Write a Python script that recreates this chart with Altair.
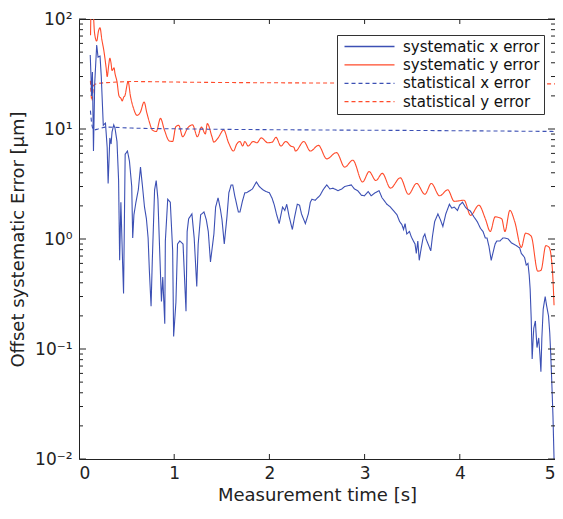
import altair as alt
import pandas as pd

# ---- data (time [s], error [um]) ----
sys_x = [(0.118,47),(0.126,30),(0.131,20),(0.141,33),(0.152,6.3),(0.165,26),(0.186,58),(0.200,45),(0.221,46),
 (0.234,30),(0.255,10.8),(0.278,11.3),(0.296,6.8),(0.306,3.2),(0.324,8.3),(0.337,7.3),(0.347,9.4),(0.365,10.9),
 (0.378,10.2),(0.399,7.7),(0.416,3.4),(0.427,0.64),(0.440,2.16),(0.458,0.60),(0.468,0.32),(0.485,5.9),(0.509,6.3),
 (0.530,5.1),(0.554,3.0),(0.564,1.02),(0.577,1.66),(0.598,2.16),(0.623,2.8),(0.646,4.5),(0.667,3.0),(0.688,1.95),
 (0.708,1.53),(0.726,1.02),(0.739,0.52),(0.757,0.245),(0.770,0.64),(0.794,2.8),(0.811,3.4),(0.829,2.3),(0.845,0.90),
 (0.866,0.27),(0.880,0.45),(0.901,0.17),(0.907,0.96),(0.932,2.3),(0.959,2.16),(0.984,0.78),(0.994,0.13),(1.018,0.265),
 (1.035,0.90),(1.059,0.96),(1.093,0.90),(1.124,0.22),(1.136,1.17),(1.152,1.53),(1.186,1.69),(1.210,1.02),(1.237,0.37),
 (1.252,0.90),(1.278,1.66),(1.313,1.76),(1.337,1.5),(1.358,1.17),(1.381,0.62),(1.417,1.11),(1.435,1.95),(1.461,2.37),
 (1.485,1.87),(1.502,1.5),(1.526,0.90),(1.554,1.59),(1.574,2.63),(1.598,3.1),(1.615,3.1),(1.636,2.47),(1.674,1.76),
 (1.691,1.76),(1.719,2.25),(1.742,2.63),(1.760,2.63),(1.794,2.75),(1.822,2.85),(1.863,3.3),(1.894,3.0),(1.932,2.8),
 (1.966,2.7),(2.000,2.63),(2.028,2.35),(2.052,2.03),(2.074,1.69),(2.103,1.38),(2.138,1.95),(2.162,1.82),(2.182,2.07),
 (2.208,1.59),(2.241,1.22),(2.265,1.59),(2.293,2.07),(2.317,2.03),(2.337,1.69),(2.378,1.38),(2.409,1.69),(2.430,2.16),
 (2.447,2.3),(2.481,2.25),(2.533,2.5),(2.564,2.8),(2.602,3.1),(2.636,2.85),(2.667,2.9),(2.722,2.75),(2.760,2.85),
 (2.791,3.0),(2.860,3.1),(2.894,2.85),(2.928,2.75),(2.966,2.5),(2.997,2.47),(3.038,2.7),(3.069,2.47),(3.110,2.63),
 (3.152,2.75),(3.183,2.37),(3.203,2.25),(3.234,2.07),(3.272,1.95),(3.306,1.80),(3.340,1.66),(3.368,1.44),(3.392,1.35),
 (3.409,1.22),(3.425,1.38),(3.443,1.11),(3.471,1.17),(3.492,1.04),(3.512,0.96),(3.530,0.90),(3.543,0.74),(3.559,0.96),
 (3.574,0.64),(3.595,0.83),(3.616,1.04),(3.633,1.11),(3.646,1.0),(3.667,0.90),(3.695,0.78),(3.713,1.06),(3.736,1.44),
 (3.770,1.69),(3.796,1.5),(3.822,1.30),(3.853,1.69),(3.891,2.07),(3.915,1.91),(3.942,1.95),(3.976,1.82),(3.997,2.03),
 (4.028,2.16),(4.059,1.95),(4.079,1.87),(4.110,1.80),(4.148,1.59),(4.183,1.44),(4.217,1.25),(4.244,1.17),(4.268,1.02),
 (4.286,1.02),(4.306,0.86),(4.330,0.64),(4.347,0.74),(4.371,0.90),(4.389,0.96),(4.423,0.96),(4.451,1.02),(4.474,1.02),
 (4.509,1.0),(4.543,0.92),(4.585,0.88),(4.629,0.83),(4.646,0.74),(4.680,0.68),(4.698,0.58),(4.716,0.60),(4.729,0.47),
 (4.739,0.35),(4.750,0.19),(4.760,0.081),(4.771,0.126),(4.777,0.155),(4.794,0.18),(4.801,0.14),(4.811,0.103),
 (4.829,0.126),(4.842,0.088),(4.852,0.062),(4.862,0.126),(4.876,0.23),(4.897,0.30),(4.911,0.25),(4.932,0.20),
 (4.945,0.14),(4.955,0.09),(4.966,0.051),(4.979,0.024),(4.990,0.01)]

sys_y = [(0.121,71),(0.127,120),(0.148,115),(0.163,75),(0.186,63),(0.205,78),(0.221,83),(0.240,65),(0.262,51),
 (0.285,36),(0.296,30),(0.312,38),(0.324,44),(0.336,40),(0.347,34),(0.368,36),(0.378,32),(0.399,27),(0.420,20),
 (0.440,19),(0.454,18),(0.470,19.5),(0.481,20),(0.516,27),(0.540,20),(0.574,15.3),(0.609,13.3),(0.643,14.1),
 (0.684,17.6),(0.712,14.1),(0.740,11.5),(0.770,9.8),(0.812,9.5),(0.856,12.5),(0.897,9.8),(0.948,7.8),(0.983,7.7),
 (1.017,10.5),(1.048,10.8),(1.089,8.5),(1.141,10.2),(1.193,10.9),(1.244,8.5),(1.286,10.4),(1.327,9.0),(1.348,11.2),
 (1.395,8.6),(1.416,7.6),(1.461,8.3),(1.520,9.8),(1.571,7.5),(1.623,6.3),(1.657,7.3),(1.691,7.7),(1.719,7.0),
 (1.742,7.7),(1.777,7.0),(1.829,7.7),(1.870,7.5),(1.914,8.3),(1.984,7.5),(2.030,7.6),(2.069,8.4),(2.121,7.0),
 (2.172,7.7),(2.224,7.0),(2.258,6.8),(2.274,6.3),(2.361,7.7),(2.430,6.3),(2.515,7.1),(2.602,5.35),(2.705,6.1),
 (2.791,4.5),(2.876,5.2),(2.979,3.3),(3.048,4.1),(3.118,3.4),(3.186,3.95),(3.272,2.9),(3.375,3.6),(3.461,2.55),
 (3.546,3.2),(3.633,2.55),(3.701,3.2),(3.788,2.47),(3.873,2.8),(3.942,2.2),(4.045,2.25),(4.113,1.64),(4.200,2.03),
 (4.268,1.53),(4.320,1.17),(4.371,1.59),(4.440,1.53),(4.474,1.17),(4.526,1.82),(4.577,1.44),(4.646,0.84),(4.691,1.13),
 (4.750,1.06),(4.819,0.51),(4.853,0.52),(4.904,0.87),(4.938,0.84),(4.973,0.52),(4.990,0.25)]

stat_x = [(0.12,14.7),(0.135,11),(0.155,9.8),(0.2,10.0),(0.28,10.4),(0.55,10.2),(1.2,10.0),(2.5,9.8),(3.5,9.7),(5.0,9.5)]
stat_y = [(0.12,27.5),(0.135,18),(0.155,25),(0.2,26),(0.33,26.5),(0.55,27),(1.2,26.6),(2.5,26.2),(4.0,25.9),(5.0,25.7)]

names = ["systematic x error", "\u00a0systematic y error", "statistical x error", "\u00a0statistical y error"]
colors = ["#3c50b4", "#ff4b2b", "#3c50b4", "#ff4b2b"]
dashes = [[1, 0], [1, 0], [4, 3], [4, 3]]

y_major = [0.01, 0.1, 1, 10, 100]
y_minor = [k * 10.0 ** e for e in range(-2, 2) for k in range(2, 10)]
x_major = [0, 1, 2, 3, 4, 5]

rows = []
for name, series in zip(names, [sys_x, sys_y, stat_x, stat_y]):
    for i, (t, v) in enumerate(series):
        rows.append({"series": name, "t": t, "v": v, "order": i})
df = pd.DataFrame(rows)

W, H = 476, 440
FONT = "DejaVu Sans"

xscale = alt.Scale(domain=[0, 5], nice=False, zero=False)
yscale = alt.Scale(type="log", domain=[0.01, 100], nice=False)

xaxis = alt.Axis(title="Measurement time [s]", values=x_major, format="d", ticks=False, domain=False,
                 grid=False, labelPadding=6, titlePadding=5)
yaxis = alt.Axis(title="Offset systematic Error [μm]", values=y_major, ticks=False, domain=False, grid=False,
                 labelPadding=7, titlePadding=7,
                 labelExpr="datum.value >= 99 ? '10²' : datum.value >= 9 ? '10¹' : datum.value >= 0.9 ? '10⁰' : datum.value >= 0.09 ? '10⁻¹' : '10⁻²'")

leg = alt.Legend(title=None, orient="none", legendX=258, legendY=16, strokeColor="#333", fillColor="white",
                 padding=4, rowPadding=2.4, labelFont=FONT, labelFontSize=15, labelColor="#111",
                 symbolType="M-1,0H11.5", symbolSize=64, symbolStrokeWidth=1.3, labelOffset=47, cornerRadius=0)

color = alt.Color("series:N", scale=alt.Scale(domain=names, range=colors), legend=leg)
dash = alt.StrokeDash("series:N", scale=alt.Scale(domain=names, range=dashes), legend=leg)

base = alt.Chart(df).encode(
    x=alt.X("t:Q", scale=xscale, axis=xaxis),
    y=alt.Y("v:Q", scale=yscale, axis=yaxis),
    color=color, strokeDash=dash, order="order:Q")

blue_line = base.transform_filter(alt.datum.series == names[0]).mark_line(strokeWidth=1.1, clip=True)
smooth = base.transform_filter(alt.datum.series != names[0]).mark_line(strokeWidth=1.1, clip=True, interpolate="monotone")

tk = "#222"
ymaj_df = pd.DataFrame({"v": y_major})
ymin_df = pd.DataFrame({"v": y_minor})
xmaj_df = pd.DataFrame({"t": x_major[1:-1]})

def yticks(d, a, b):
    return alt.Chart(d).mark_rule(color=tk, strokeWidth=1).encode(
        y=alt.Y("v:Q", scale=yscale, axis=yaxis), x=alt.value(a), x2=alt.value(b))

def xticks(d, a, b):
    return alt.Chart(d).mark_rule(color=tk, strokeWidth=1).encode(
        x=alt.X("t:Q", scale=xscale, axis=xaxis), y=alt.value(a), y2=alt.value(b))

chart = alt.layer(
    smooth, blue_line,
    yticks(ymaj_df, 0, 7), yticks(ymaj_df, W, W - 7),
    yticks(ymin_df, 0, 4), yticks(ymin_df, W, W - 4),
    xticks(xmaj_df, H, H - 5), xticks(xmaj_df, 0, 5),
).properties(
    width=W, height=H,
    autosize=alt.AutoSizeParams(type="none"),
    padding={"left": 71, "top": 11, "right": 0, "bottom": 48},
).configure_view(stroke="#222", strokeWidth=1).configure_axis(
    labelFont=FONT, labelFontSize=17, labelColor="#222",
    titleFont=FONT, titleFontSize=18, titleFontWeight="normal", titleColor="#222")

chart.save("out.html", embed_options={"renderer": "svg", "actions": False})
